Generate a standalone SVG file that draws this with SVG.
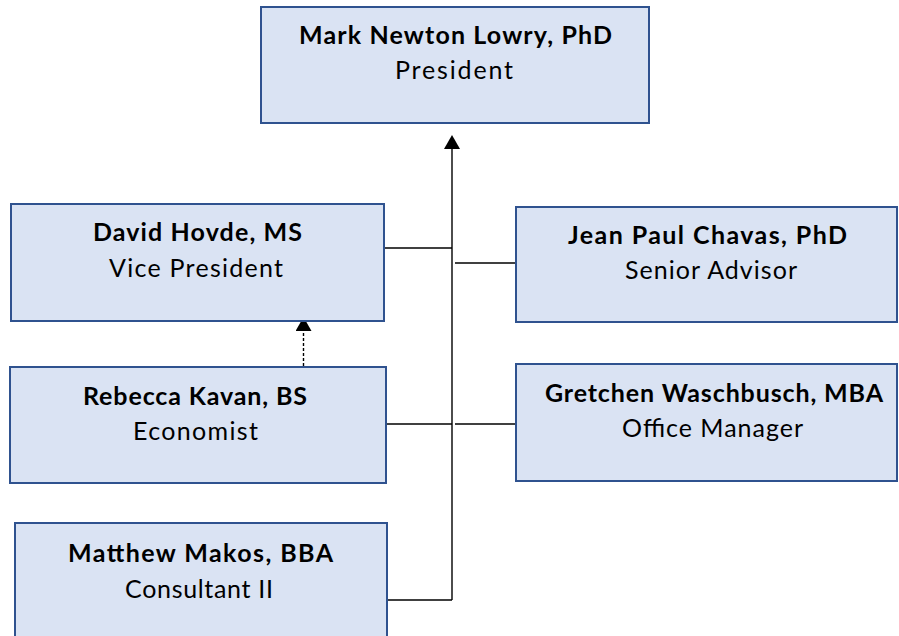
<svg xmlns="http://www.w3.org/2000/svg" width="899" height="636" viewBox="0 0 899 636">
<defs>
<style>
.box{fill:#DAE3F3;stroke:#2F528F;stroke-width:2}
.n{font-family:Lato,"Liberation Sans",sans-serif;font-weight:bold;font-size:25px;fill:#000;text-anchor:middle}
.t{font-family:Lato,"Liberation Sans",sans-serif;font-size:25px;fill:#000;text-anchor:middle}
.c{fill:none;stroke:#000;stroke-width:1.4}
.d{stroke-dasharray:3 2}
</style>
<marker id="arr" viewBox="0 0 14 16" refX="0" refY="8" markerWidth="14" markerHeight="16" markerUnits="userSpaceOnUse" orient="auto">
<path d="M0,0 L14,8 L0,16 z" fill="#000"/>
</marker>
</defs>
<rect width="899" height="636" fill="#fff"/>
<g id="connectors">
<path class="c" d="M452 600 V149" marker-end="url(#arr)"/>
<path class="c d" d="M303.5 366 V331" marker-end="url(#arr)"/>
<path class="c" d="M384 248 H452"/>
<path class="c" d="M455 263 H516"/>
<path class="c" d="M386 424 H452"/>
<path class="c" d="M455 424 H516"/>
<path class="c" d="M387 600 H452"/>
</g>
<g id="mark">
<rect class="box" x="261" y="7" width="388" height="116"/>
<text class="n" x="455.5" y="44" textLength="313">Mark Newton Lowry, PhD</text>
<text class="t" x="454" y="79" textLength="118">President</text>
</g>
<g id="david">
<rect class="box" x="11" y="204" width="373" height="117"/>
<text class="n" x="197.5" y="241" textLength="209">David Hovde, MS</text>
<text class="t" x="196" y="277" textLength="174">Vice President</text>
</g>
<g id="jean">
<rect class="box" x="516" y="207" width="381" height="115"/>
<text class="n" x="707.5" y="244" textLength="279">Jean Paul Chavas, PhD</text>
<text class="t" x="711" y="279" textLength="172">Senior Advisor</text>
</g>
<g id="rebecca">
<rect class="box" x="10" y="367" width="376" height="116"/>
<text class="n" x="195" y="405" textLength="224">Rebecca Kavan, BS</text>
<text class="t" x="195.5" y="440" textLength="125">Economist</text>
</g>
<g id="gretchen">
<rect class="box" x="516" y="364" width="381" height="117"/>
<text class="n" x="714" y="401.5" textLength="338">Gretchen Waschbusch, MBA</text>
<text class="t" x="712.5" y="436.5" textLength="181">Office Manager</text>
</g>
<g id="matthew">
<rect class="box" x="15" y="523" width="372" height="130"/>
<text class="n" x="200.5" y="562" textLength="265">Matthew Makos, BBA</text>
<text class="t" x="199" y="598" textLength="148">Consultant II</text>
</g>
</svg>
